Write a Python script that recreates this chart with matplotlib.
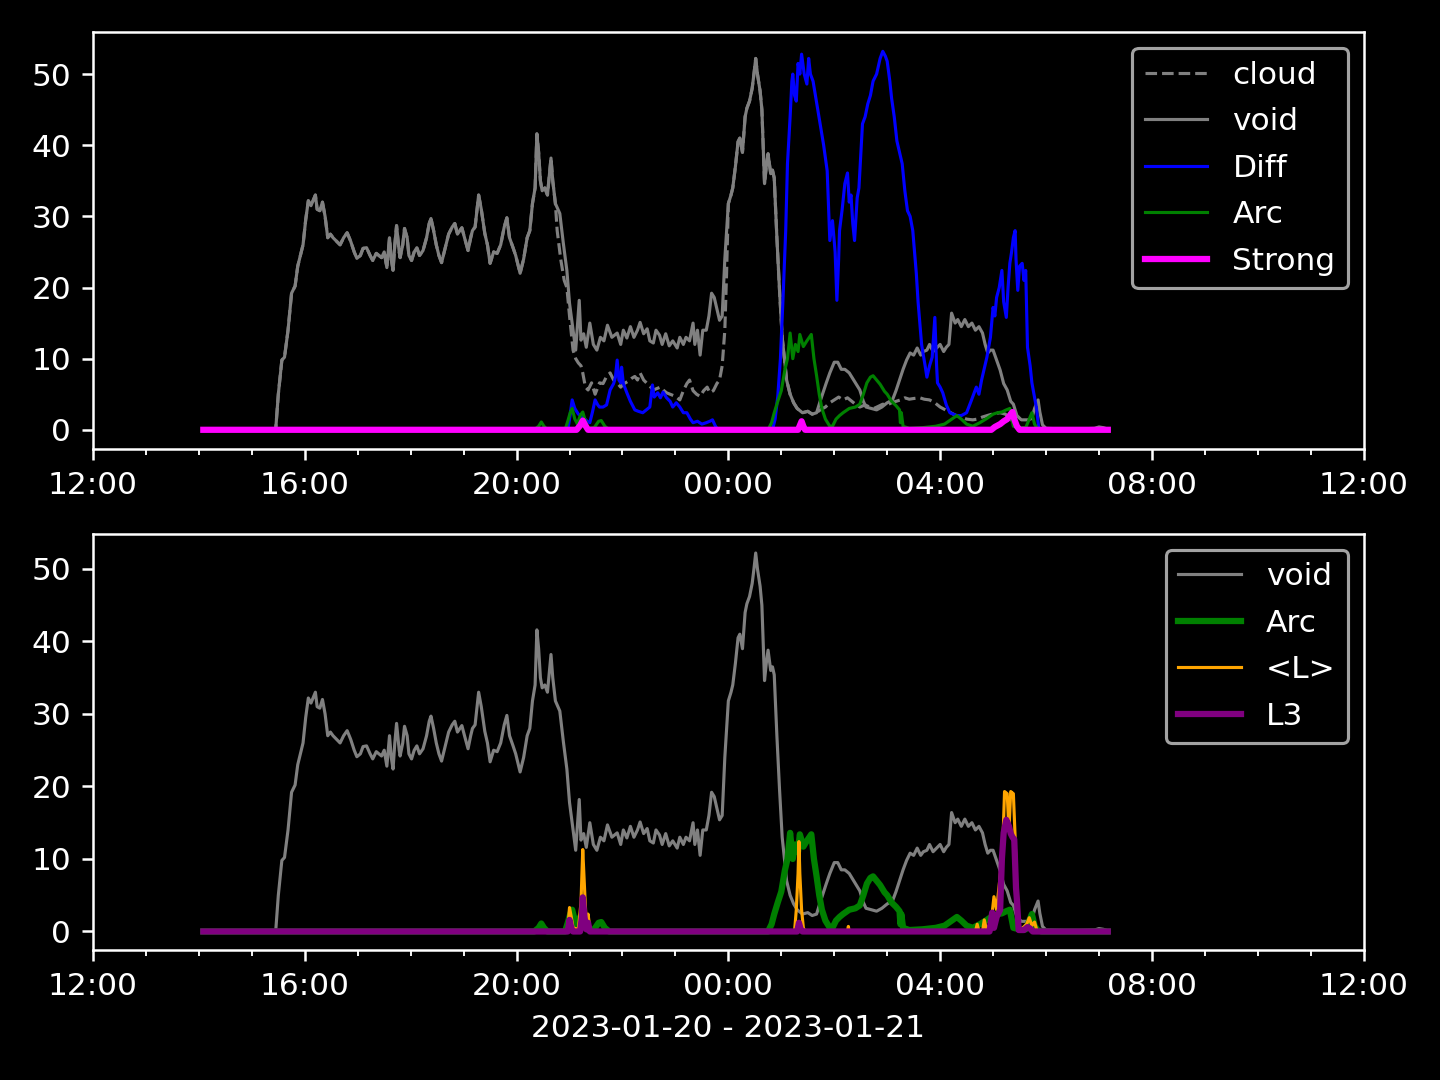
import matplotlib
matplotlib.use("Agg")
import matplotlib.pyplot as plt
import matplotlib.dates as mdates
from datetime import datetime, timedelta

# ---------------- data (HH:MM, hours >= 12 are 2023-01-20, else 2023-01-21) ----------------
void_t = ["14:05","15:27","15:30","15:34","15:37","15:41","15:45","15:49","15:52","15:55","15:58","16:01","16:04","16:07",
          "16:12","16:14","16:17","16:20","16:23","16:26","16:29","16:32","16:36","16:40","16:44","16:48","16:52","16:56",
          "16:59","17:03","17:06","17:10","17:14","17:17","17:21","17:24","17:27","17:30","17:33","17:36","17:38","17:40",
          "17:42","17:44","17:47","17:48","17:51","17:53","17:56","17:58","18:01","18:04","18:07","18:10","18:14","18:18",
          "18:21","18:23","18:26","18:29","18:32","18:35","18:39","18:43","18:47","18:50","18:53","18:58","19:01","19:05",
          "19:08","19:10","19:13","19:17","19:20","19:24","19:27","19:30","19:34","19:38","19:42","19:46","19:49","19:52",
          "19:56","19:59","20:04","20:08","20:12","20:15","20:18","20:21","20:23","20:25","20:27","20:29","20:32","20:35",
          "20:39","20:41","20:44","20:49","20:53","20:57","21:00","21:04","21:07","21:11","21:13","21:16","21:19","21:23",
          "21:27","21:31","21:35","21:39","21:43","21:48","21:54","21:58","22:01","22:05","22:09","22:13","22:17","22:20",
          "22:24","22:28","22:31","22:35","22:38","22:42","22:45","22:49","22:53","22:57","23:02","23:05","23:09","23:12",
          "23:16","23:20","23:22","23:25","23:28","23:31","23:35","23:38","23:41","23:44","23:47","23:50","23:53","23:56",
          "00:00","00:03","00:05","00:08","00:11","00:13","00:16","00:19","00:21","00:24","00:27","00:29","00:31","00:33",
          "00:36","00:38","00:41","00:43","00:45","00:48","00:50","00:52","00:55","00:58","01:01","01:04","01:06","01:10",
          "01:14","01:18","01:24","01:30","01:35","01:40","01:44","01:48","01:51","01:55","02:00","02:04","02:08","02:12",
          "02:17","02:22","02:26","02:29","02:33","02:36","02:42","02:48","02:54","03:00","03:06","03:10","03:14","03:18",
          "03:22","03:26","03:30","03:34","03:38","03:41","03:45","03:48","03:52","03:56","04:00","04:04","04:07","04:10",
          "04:13","04:17","04:20","04:24","04:28","04:32","04:36","04:40","04:44","04:48","04:51","04:54","04:57","05:00",
          "05:04","05:08","05:12","05:16","05:20","05:23","05:27","05:32","05:40","05:44","05:47","05:51","05:53","05:56",
          "06:00","06:30","06:55","07:00","07:05","07:10"]
void_v = [0,0,5,9.8,10.2,14,19.2,20.2,23,24.5,26,29.5,32.2,31.5,
          33,31,30.8,32,30,27,27.5,27,26.5,26,27,27.7,26.5,25,
          24.1,24.5,25.5,25.6,24.5,23.8,24.8,24.5,24.2,25,22.8,27,24,22.4,
          26,28.7,25,24.2,26,28.3,27,24.5,23.8,25,25.6,24.5,25.2,27,
          29,29.7,28,26,24.5,23.5,25.5,27.5,28.5,29,27.5,28.4,27,25.2,
          27,28,28.5,33,31,27.6,26,23.4,25,24.8,26,28.5,29.8,27,
          25.6,24.5,22,24,27,28,31.8,34,41.6,39,35,33.6,34,33,
          38.2,35,31.8,30.4,26.2,22.4,17.8,14,11.2,18.2,12.6,13.5,11.6,15,
          12,11.2,13,12.5,14.7,13,13.6,12,14,12.9,14.5,13,14,15.1,
          13.5,14.2,12.5,12.2,14,13.3,12,13.5,11.8,12.5,11.5,13,12,13,
          12.5,15,12,14,10.5,14,14,16,19.2,18.6,17,15.4,16,24,
          31.8,33,34,37,40.5,41,39,44,45.2,46.2,48,50,52.2,50,
          47.6,45,34.6,37,38.8,36,36.5,35.4,27,19.6,13,9.5,7,5,
          3.8,3,2.4,2.6,2.2,2.4,4,5.5,6.6,8,9.5,9.5,8.5,8.5,
          8,7,6.2,5.6,4,3.2,3,2.8,3.2,3.8,4.2,5.5,7,8.5,
          9.8,10.8,10.5,11.5,10.5,11,11.2,12,11,11.5,12,11,11.6,12,
          16.4,15,15.5,14.5,15.5,14.5,15,14,14.5,13.6,12,10.8,11.2,11.2,
          9.8,8.4,6.5,5.6,4,3.6,2,1.4,1.4,1.6,3,4.2,2.5,0.7,
          0.2,0.1,0.2,0.4,0.3,0.1]

# cloud: own values where it departs from void
cloud1_t = ["20:46","20:50","20:54","20:57","21:00","21:04","21:07","21:10","21:13","21:15","21:18","21:21","21:25","21:29",
            "21:34","21:38","21:42","21:46","21:50","21:54","21:58","22:02","22:06","22:10","22:14","22:17","22:20","22:24",
            "22:28","22:32","22:35","22:39","22:43","22:47","22:50","22:54","22:58","23:02","23:05","23:09","23:13","23:16",
            "23:20","23:24","23:28","23:32","23:36","23:39","23:43","23:47","23:50","23:53","23:56","23:58"]
cloud1_v = [28,24,21,20,16,11.2,10,9.4,9,8,6,5.6,6.6,5,
            6.6,6.5,7.5,8,7,6.6,6,6.5,6.8,7.2,7.5,7,8,7,
            6.5,6,5.6,5.8,6,5.5,5.2,5,4.8,4.5,4.2,5.5,6.5,7,
            5.5,5,4.7,5.5,6,5.2,5.5,6.5,7,9,14,22]
cloud2_t = ["01:44","01:50","01:55","02:00","02:05","02:10","02:15","02:20","02:25","02:29","02:35","02:40","02:45","02:50",
            "02:55","03:00","03:05","03:10","03:15","03:20","03:25","03:30","03:37","03:42","03:48","03:54","04:00","04:06",
            "04:12","04:18","04:24","04:30","04:37","04:42","04:48","04:56","05:02","05:08","05:14","05:20","05:25","05:30",
            "05:40","06:00","06:55","07:00","07:05","07:10"]
cloud2_v = [2.8,3.2,3.8,4.2,4.6,4.2,4.5,4,3.5,3.2,3.5,3.2,3,3.3,
            3.6,3.5,3.8,4,4.2,4.5,4.3,4.4,4.5,4.3,4.2,3.8,3.2,2.8,
            2.4,2,1.8,1.5,1.4,1.5,1.8,2.1,2.3,2.4,2.2,1.5,0.8,0.3,
            0.1,0,0.1,0.3,0.2,0.1]

diff_t = ["14:05","20:58","21:00","21:03","21:06","21:10","21:15","21:20","21:23","21:26","21:29","21:32","21:34","21:38",
          "21:42","21:46","21:50","21:52","21:54","21:56","21:58","21:59","22:01","22:05","22:09","22:14","22:18","22:23",
          "22:27","22:31","22:34","22:36","22:40","22:43","22:46","22:50","22:54","22:57","23:01","23:05","23:09","23:13",
          "23:17","23:20","23:25","23:30","23:35","23:39","23:42","23:45","23:48","00:50","00:53","00:56","00:59","01:02",
          "01:05","01:07","01:10","01:12","01:13","01:15","01:17","01:19","01:21","01:23","01:26","01:29","01:31","01:33",
          "01:36","01:40","01:44","01:48","01:52","01:55","01:58","02:01","02:03","02:05","02:06","02:09","02:12","02:15",
          "02:17","02:19","02:21","02:23","02:26","02:28","02:32","02:35","02:38","02:41","02:44","02:48","02:52","02:55",
          "02:58","03:00","03:03","03:05","03:08","03:11","03:14","03:17","03:20","03:23","03:26","03:29","03:31","03:33",
          "03:35","03:37","03:39","03:40","03:43","03:45","03:48","03:51","03:54","03:56","03:57","04:00","04:03","04:07",
          "04:11","04:15","04:19","04:24","04:30","04:35","04:41","04:44","04:47","04:53","04:57","05:00","05:02","05:04",
          "05:07","05:10","05:12","05:15","05:17","05:19","05:21","05:23","05:25","05:26","05:28","05:30","05:33","05:35",
          "05:37","05:39","05:42","05:44","05:49","05:52","07:10"]
diff_v = [0,0,1.5,4.2,3,2.2,1.8,1.2,1,2.5,4.2,3.5,3.2,3.2,
          3.5,5.6,6.5,7.4,9.8,7,6.6,8.8,6.5,5.2,4,2.8,2.6,2.4,
          2.8,3.2,6.3,4.6,5.2,4.5,5.3,4.5,4,3.2,3.8,3.2,2.4,2.4,
          1.5,1,1.2,0.8,1,1.2,1.4,0.6,0,0,1.5,4.7,10,18.6,
          28,37.4,44,49,50,47,46.2,51.5,50,52.8,50,48.6,52.2,50,
          49,46,43,40,36.4,26.6,29.4,25,18.2,24,28,31,34.6,36.1,
          32,33,29,26.6,32.6,34,43,44,45.8,47,49,50,52.2,53.2,
          52.5,51.8,49,46.6,44,40.6,39,37.4,33.6,30.8,30,28,25,22,
          18,15,12,11.2,9,7.4,9,10.2,15.8,9,6.6,6,5.2,3.5,
          2.4,2.2,2,2,2.4,4,6,5,7,10.2,13,17.2,16,18.6,
          20,22.4,18,15.8,20,23.4,25,27,28,24,19.6,23,23.4,21,
          22.4,11.6,9,6.6,3.2,0,0]

arc_t = ["14:05","20:20","20:25","20:28","20:31","20:35","20:55","20:58","21:01","21:03","21:06","21:09","21:12","21:15",
         "21:18","21:21","21:28","21:33","21:36","21:40","21:45","00:45","00:49","00:52","00:56","01:00","01:04","01:07",
         "01:10","01:13","01:16","01:19","01:21","01:25","01:29","01:34","01:37","01:40","01:43","01:46","01:50","01:55",
         "01:58","02:02","02:06","02:10","02:17","02:24","02:29","02:33","02:37","02:41","02:44","02:48","02:52","02:57",
         "03:00","03:05","03:10","03:14","03:15","03:16","03:18","03:25","03:40","03:55","04:05","04:12","04:19","04:24",
         "04:30","04:37","04:45","04:53","05:00","05:05","05:10","05:15","05:19","05:23","05:30","05:37","05:41","05:44",
         "05:47","05:50","05:55","07:10"]
arc_v = [0,0,0.5,1.1,0.5,0,0,1.2,2.5,3,1.5,0.8,2,2.5,
         1.2,0.2,0.3,1.2,1.3,0.5,0,0,1,2.4,4,5.5,8.4,10,
         13.6,10,12,11,13.4,11.7,12.5,13.4,10,7.6,5,3,1.5,0.5,
         0.5,1.5,2,2.4,3,3.2,3.6,5,6.6,7.4,7.6,7,6.4,5.4,
         5,4,3.4,2.8,1,2.4,0.5,0.2,0.3,0.5,0.8,1.4,2,1.5,
         0.8,0.5,1,1.6,2.2,2.4,2.5,2.8,3,0.5,0.3,0.3,1.5,2.4,
         0.8,0.2,0,0]

strong_t = ["14:05","21:08","21:12","21:15","21:18","21:21","01:19","01:21","01:23","01:25","01:27","04:58","05:02","05:08",
            "05:12","05:16","05:20","05:22","05:24","05:27","05:30","07:10"]
strong_v = [0,0,0.6,1.3,0.6,0,0,0.6,1.2,0.5,0,0,0.4,0.8,
            1.2,1.5,2.2,2.5,1.5,0.5,0,0]

lavg_t = ["14:05","20:55","20:58","21:00","21:02","21:04","21:10","21:13","21:15","21:17","21:19","21:21","21:23","21:25",
          "01:15","01:17","01:19","01:20","01:21","01:23","01:25","01:27","02:15","02:16","02:17","04:40","04:42","04:44",
          "04:48","04:50","04:53","04:58","05:01","05:04","05:08","05:11","05:13","05:16","05:18","05:20","05:23","05:25",
          "05:28","05:32","05:38","05:41","05:44","05:47","05:50","07:10"]
lavg_v = [0,0,0.5,3.3,2,0.5,0.3,4,11.3,6,1,2.4,0.5,0,
          0,3,8,12.4,8,3,0.5,0,0,0.7,0,0,1,0,
          0,1.6,0,1.5,4.8,3,7.6,12,19.3,19,14,19.3,19,13,
          0.3,0.3,1,1.9,0.8,1.3,0,0]

l3_t = ["14:05","20:58","21:00","21:02","21:04","21:12","21:14","21:15","21:17","21:19","21:21","21:23","01:18","01:20",
        "01:22","01:24","04:56","04:59","05:01","05:04","05:08","05:10","05:12","05:15","05:18","05:20","05:22","05:24",
        "05:26","05:27","05:29","05:35","05:39","05:42","05:45","07:10"]
l3_v = [0,0,1.6,0.5,0,0,2,4.7,2,0.3,1.2,0,0,1.2,
        0.3,0,0,2.6,0.5,2,3,10,13.6,15.4,14.5,13.5,13,12.7,
        6,4.4,0.2,0.2,0.6,0.4,0,0]

xlabel_text = "2023-01-20 - 2023-01-21"


def to_dt(labels):
    out = []
    for s in labels:
        h, m = map(int, s.split(":"))
        day = 20 if h >= 12 else 21
        out.append(datetime(2023, 1, day, h, m))
    return out


def merge_cloud():
    vt, cv1, cv2 = to_dt(void_t), to_dt(cloud1_t), to_dt(cloud2_t)
    pts = [(t, v) for t, v in zip(vt, void_v) if t < cv1[0]]
    pts += list(zip(cv1, cloud1_v))
    pts += [(t, v) for t, v in zip(vt, void_v) if cv1[-1] < t < cv2[0]]
    pts += list(zip(cv2, cloud2_v))
    return [p[0] for p in pts], [p[1] for p in pts]


plt.style.use("dark_background")
plt.rcParams["font.family"] = ["DejaVu Sans"]

fig, (ax1, ax2) = plt.subplots(2, 1, figsize=(6.4, 4.8), dpi=225)
fig.subplots_adjust(left=0.0646, right=0.947, top=0.970, bottom=0.120, hspace=0.205)

ct, cv = merge_cloud()
ax1.plot(ct, cv, color="gray", lw=1, ls="--", label="cloud")
ax1.plot(to_dt(void_t), void_v, color="gray", lw=1, label="void")
ax1.plot(to_dt(diff_t), diff_v, color="blue", lw=1, label="Diff")
ax1.plot(to_dt(arc_t), arc_v, color="green", lw=1, label="Arc")
ax1.plot(to_dt(strong_t), strong_v, color="magenta", lw=2, label="Strong")

ax2.plot(to_dt(void_t), void_v, color="gray", lw=1, label="void")
ax2.plot(to_dt(arc_t), arc_v, color="green", lw=2, label="Arc")
ax2.plot(to_dt(lavg_t), lavg_v, color="orange", lw=1, label="<L>")
ax2.plot(to_dt(l3_t), l3_v, color="purple", lw=2, label="L3")

for ax in (ax1, ax2):
    ax.set_xlim(datetime(2023, 1, 20, 12, 0), datetime(2023, 1, 21, 12, 0))
    ax.xaxis.set_major_locator(mdates.HourLocator(byhour=[0, 4, 8, 12, 16, 20]))
    ax.xaxis.set_minor_locator(mdates.HourLocator())
    ax.xaxis.set_major_formatter(mdates.DateFormatter("%H:%M"))
    ax.legend(loc="upper right", labelspacing=0.56)

ax2.set_xlabel(xlabel_text)

fig.savefig("out.png", dpi=225)
